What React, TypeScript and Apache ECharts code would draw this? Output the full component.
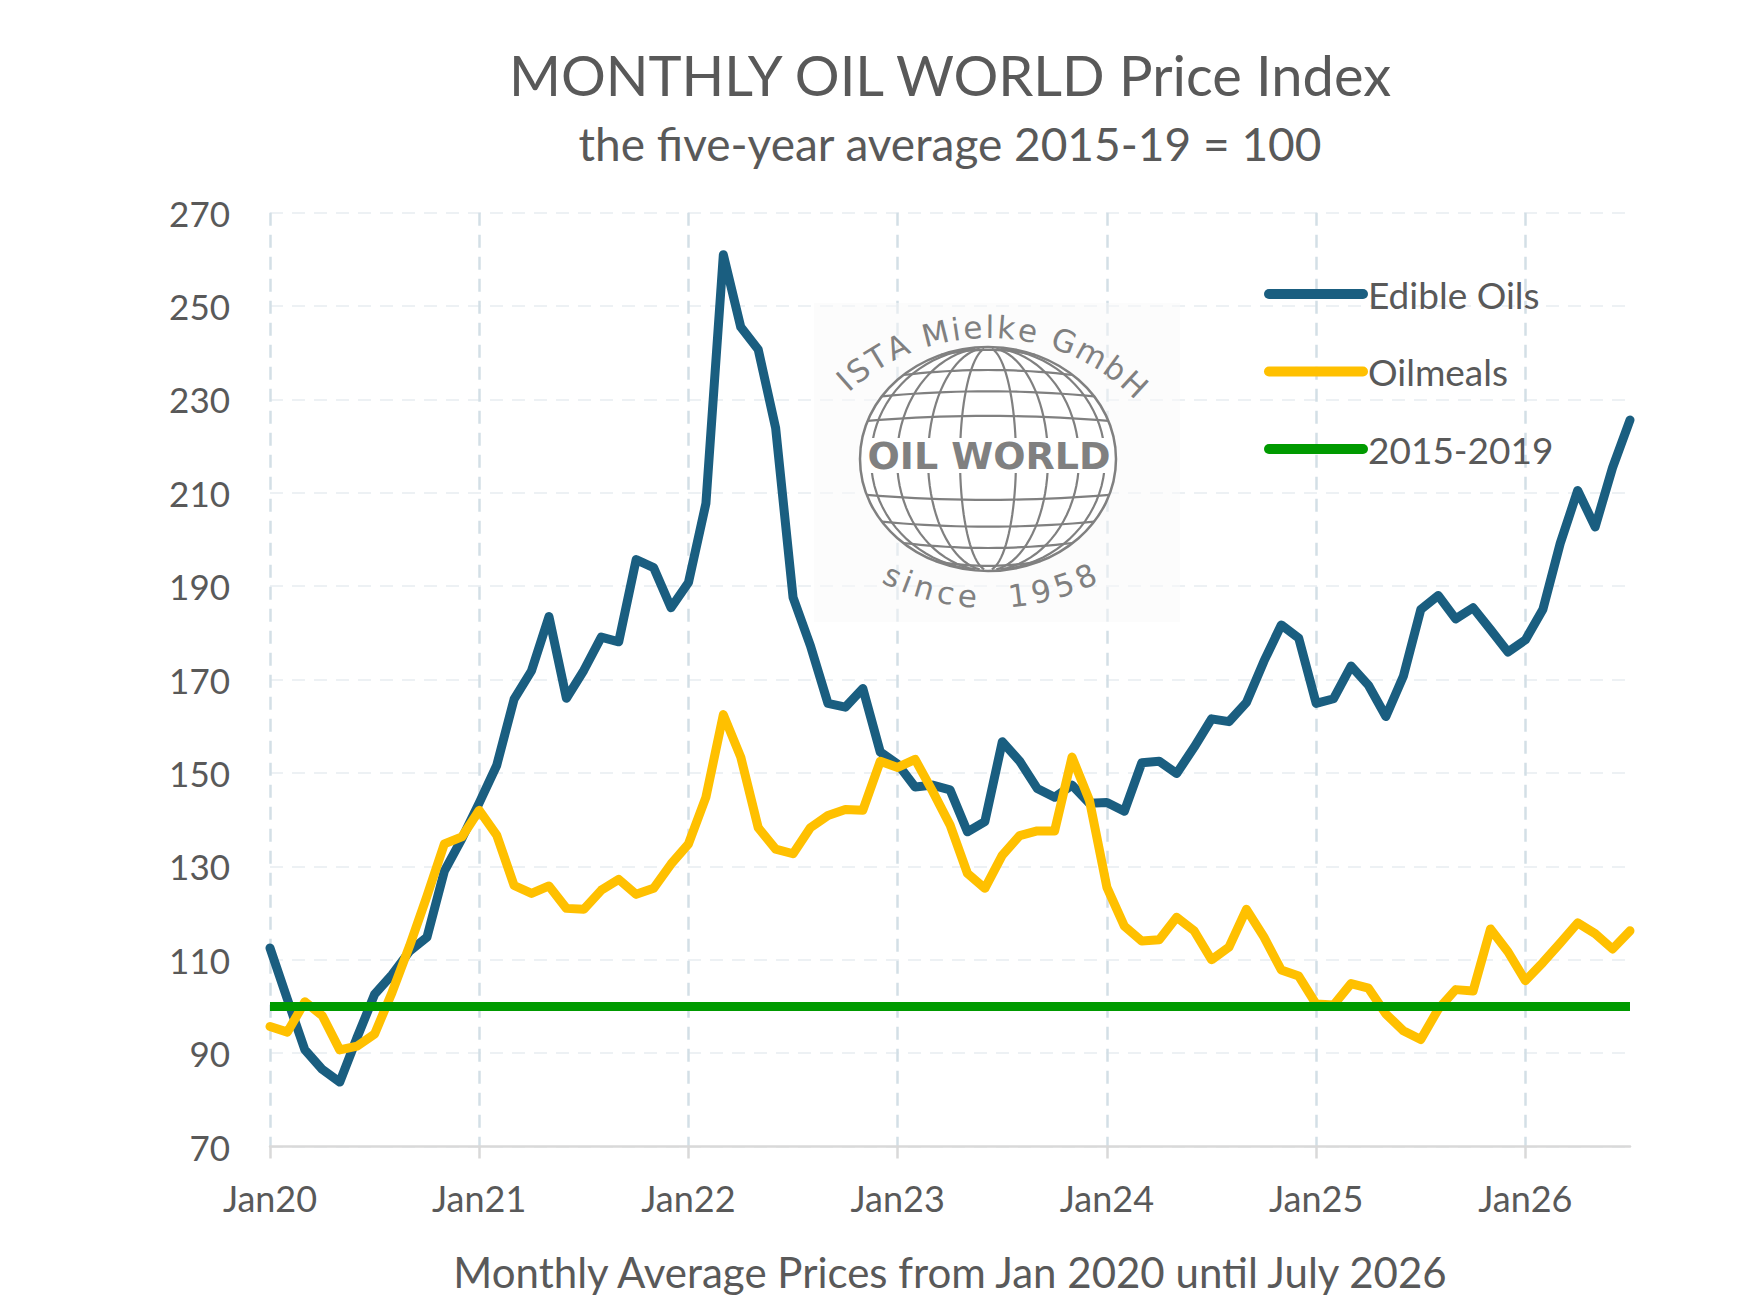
import React, { useEffect, useRef } from 'react'
import * as echarts from 'echarts'

// month labels Jan20 .. Jul26
const YEARS = ['20', '21', '22', '23', '24', '25', '26']
const MONTH_ABBR = ['Jan', 'Feb', 'Mar', 'Apr', 'May', 'Jun', 'Jul', 'Aug', 'Sep', 'Oct', 'Nov', 'Dec']
const MONTHS_IN_LAST_YEAR = 7

const MONTHS: string[] = []
YEARS.forEach((yy, yi) => {
    MONTH_ABBR.forEach((m, mi) => {
        if (yi < YEARS.length - 1 || mi < MONTHS_IN_LAST_YEAR) MONTHS.push(m + yy)
    })
})

const EDIBLE_OILS = [
    112.5, 101.5, 90.7, 86.5, 83.8, 93.4, 102.6, 106.8, 111.8, 114.8, 129.0, 135.9,
    143.6, 151.6, 165.8, 171.9, 183.5, 166.0, 172.0, 179.1, 178.1, 195.7, 194.0, 185.4,
    190.8, 207.7, 261.0, 245.5, 240.7, 223.9, 187.6, 177.2, 164.9, 164.1, 168.1, 154.5,
    151.9, 147.0, 147.4, 146.4, 137.4, 139.6, 156.7, 152.5, 146.7, 144.8, 147.4, 143.5,
    143.7, 141.8, 152.2, 152.5, 149.9, 155.5, 161.6, 161.0, 165.1, 173.9, 181.7, 178.9,
    164.9, 165.9, 172.9, 168.8, 162.1, 170.7, 185.0, 188.0, 183.0, 185.4, 180.7, 175.9,
    178.5, 185.0, 199.2, 210.5, 202.7, 215.4, 225.6,
]

const OILMEALS = [
    95.7, 94.5, 101.0, 98.0, 90.7, 91.5, 94.1, 103.0, 112.9, 123.6, 134.8, 136.3,
    142.0, 136.7, 125.9, 124.2, 125.8, 121.0, 120.8, 124.9, 127.2, 124.0, 125.3, 130.5,
    134.8, 144.8, 162.5, 153.4, 138.3, 133.7, 132.7, 138.3, 140.9, 142.2, 142.0, 152.5,
    151.2, 152.9, 146.1, 138.9, 128.5, 125.3, 132.4, 136.6, 137.6, 137.6, 153.4, 144.1,
    125.5, 117.2, 114.0, 114.3, 119.1, 116.2, 110.0, 112.7, 120.8, 114.9, 107.8, 106.5,
    100.5, 100.3, 104.9, 103.9, 98.4, 94.8, 92.9, 99.4, 103.6, 103.3, 116.6, 111.7,
    105.5, 109.4, 113.6, 117.9, 115.6, 112.3, 116.2,
]

// five-year average 2015-19 is the index base
const BASE_INDEX = 100

const Y_MIN = 70
const Y_MAX = 270
const Y_STEP = 20

const TEXT_GREY = '#595959'
const LOGO_GREY = '#808080'
const FONT = 'Lato, "Open Sans", sans-serif'

// letters laid out along a circle (logo lettering)
const arcLetters = (
    text: string, cx: number, cy: number, r: number, offsetDeg: number,
    size: number, spacing: number, onTop: boolean
) => {
    const font = `${size}px "DejaVu Sans"`
    const ctx = document.createElement('canvas').getContext('2d')
    const widths = text.split('').map((ch) => {
        let w = size * 0.6
        if (ctx) {
            ctx.font = font
            w = ctx.measureText(ch).width
        }
        return w + spacing
    })
    const total = widths.reduce((a, b) => a + b, 0) - spacing
    let pos = -total / 2
    return text.split('').map((ch, i) => {
        const mid = pos + (widths[i] - spacing) / 2
        pos += widths[i]
        const ang = mid / r + (offsetDeg * Math.PI) / 180
        const x = cx + r * Math.sin(ang)
        const y = onTop ? cy - r * Math.cos(ang) : cy + r * Math.cos(ang)
        return {
            type: 'text',
            x,
            y,
            rotation: onTop ? -ang : ang,
            silent: true,
            style: { text: ch, font, fill: LOGO_GREY, align: 'center', verticalAlign: 'middle' },
        }
    })
}

const buildLogo = () => {
    const cx = 988
    const cy = 459
    const rx = 128
    const ry = 112
    const els: any[] = []

    els.push({ type: 'rect', shape: { x: 814, y: 303, width: 366, height: 319 }, style: { fill: 'rgba(250,250,250,0.5)' }, silent: true })
    els.push({ type: 'ellipse', shape: { cx, cy, rx, ry }, style: { fill: '#ffffff', stroke: 'none' }, silent: true })

    // meridians
    const meridians = [-117, -91, -60, -28, 28, 60, 91, 117]
    meridians.forEach((a) => {
        const pts: number[][] = []
        for (let t = -82; t <= 82; t += 4) {
            const rad = (t * Math.PI) / 180
            pts.push([cx + a * Math.cos(rad), cy + ry * 0.995 * Math.sin(rad)])
        }
        els.push({ type: 'polyline', shape: { points: pts }, style: { stroke: LOGO_GREY, lineWidth: 2.2, fill: null }, silent: true })
    })

    // parallels
    const parallels = [-0.93, -0.75, -0.56, -0.34, 0.32, 0.56, 0.75, 0.91]
    parallels.forEach((s) => {
        const w = rx * Math.sqrt(1 - s * s)
        const base = cy + ry * s
        const pts: number[][] = []
        for (let u = -1; u <= 1.0001; u += 0.1) {
            pts.push([cx + w * u, base + Math.sign(s) * 5 * (1 - u * u)])
        }
        els.push({ type: 'polyline', shape: { points: pts }, style: { stroke: LOGO_GREY, lineWidth: 2.2, fill: null }, silent: true })
    })

    els.push({ type: 'rect', shape: { x: 864, y: 438, width: 248, height: 35 }, style: { fill: '#ffffff' }, silent: true })
    els.push({
        type: 'text', x: cx + 1, y: 456, silent: true,
        style: { text: 'OIL WORLD', font: 'bold 38px "DejaVu Sans"', fill: LOGO_GREY, align: 'center', verticalAlign: 'middle' },
    })
    els.push({ type: 'ellipse', shape: { cx, cy, rx, ry }, style: { fill: 'none', stroke: LOGO_GREY, lineWidth: 2.5 }, silent: true })

    arcLetters('ISTA Mielke GmbH', 988, 543, 216, 1.5, 31, 3.2, true).forEach((e) => els.push(e))
    arcLetters('since  1958', 990, 365, 232, 0, 31, 3.8, false).forEach((e) => els.push(e))

    return els
}

const App = () => {
    const chartRef = useRef<HTMLDivElement>(null)

    useEffect(() => {
        document.body.style.margin = '0'
        if (!chartRef.current) return
        const chart = echarts.init(chartRef.current, null, { renderer: 'svg' })

        const option = {
            animation: false,
            backgroundColor: '#ffffff',
            title: [
                {
                    text: 'MONTHLY OIL WORLD Price Index',
                    left: 950,
                    top: 46,
                    textAlign: 'center',
                    padding: 0,
                    textStyle: { fontFamily: FONT, fontSize: 56, fontWeight: 'normal', color: TEXT_GREY },
                },
                {
                    text: 'the five-year average 2015-19 = 100',
                    left: 950,
                    top: 120,
                    textAlign: 'center',
                    padding: 0,
                    textStyle: { fontFamily: FONT, fontSize: 46, fontWeight: 'normal', color: TEXT_GREY },
                },
            ],
            legend: {
                orient: 'vertical',
                left: 1259,
                top: 269,
                itemWidth: 94,
                itemHeight: 10,
                itemGap: 37.5,
                itemStyle: { opacity: 0 },
                lineStyle: { width: 10, cap: 'round' },
                textStyle: { fontFamily: FONT, fontSize: 37, color: TEXT_GREY, lineHeight: 40, padding: [0, 0, 0, 0] },
                data: ['Edible Oils', 'Oilmeals', '2015-2019'],
            },
            grid: { left: 270, right: 128, top: 212.7, bottom: 168.5, containLabel: false },
            xAxis: {
                type: 'category',
                data: MONTHS,
                boundaryGap: false,
                name: 'Monthly Average Prices from Jan 2020 until July 2026',
                nameLocation: 'middle',
                nameGap: 104,
                nameTextStyle: { fontFamily: FONT, fontSize: 42, color: TEXT_GREY },
                axisLine: { lineStyle: { color: '#d9d9d9', width: 2.5 } },
                axisTick: { interval: 11, length: 12, lineStyle: { color: '#d9d9d9', width: 2.5 } },
                axisLabel: { interval: 11, margin: 33, fontFamily: FONT, fontSize: 36, color: TEXT_GREY },
                splitLine: { show: true, interval: 11, lineStyle: { color: '#d3dfe6', width: 2.5, type: [13, 9] } },
            },
            yAxis: {
                type: 'value',
                min: Y_MIN,
                max: Y_MAX,
                interval: Y_STEP,
                axisLine: { show: false },
                axisTick: { show: false },
                axisLabel: { margin: 40, fontFamily: FONT, fontSize: 35, color: TEXT_GREY, padding: [0, 0, 6, 0] },
                splitLine: { lineStyle: { color: '#edf1f4', width: 2, type: [13, 9] } },
            },
            graphic: { elements: buildLogo().map((e) => ({ ...e, z: 1 })) },
            series: [
                {
                    name: 'Edible Oils',
                    type: 'line',
                    data: EDIBLE_OILS,
                    symbol: 'none',
                    lineStyle: { color: '#1a5e80', width: 9, join: 'round', cap: 'round' },
                    itemStyle: { color: '#1a5e80' },
                    z: 3,
                },
                {
                    name: 'Oilmeals',
                    type: 'line',
                    data: OILMEALS,
                    symbol: 'none',
                    lineStyle: { color: '#ffc000', width: 9, join: 'round', cap: 'round' },
                    itemStyle: { color: '#ffc000' },
                    z: 4,
                },
                {
                    name: '2015-2019',
                    type: 'line',
                    data: MONTHS.map(() => BASE_INDEX),
                    symbol: 'none',
                    lineStyle: { color: '#009a00', width: 9 },
                    itemStyle: { color: '#009a00' },
                    z: 5,
                },
            ],
        }

        try {
            chart.setOption(option as any)
        } catch (err) {
            console.error('Error setting chart options:', err)
        }

        return () => {
            chart.dispose()
        }
    }, [])

    return <div ref={chartRef} style={{ width: '1758px', height: '1315px' }} />
}

export default App
